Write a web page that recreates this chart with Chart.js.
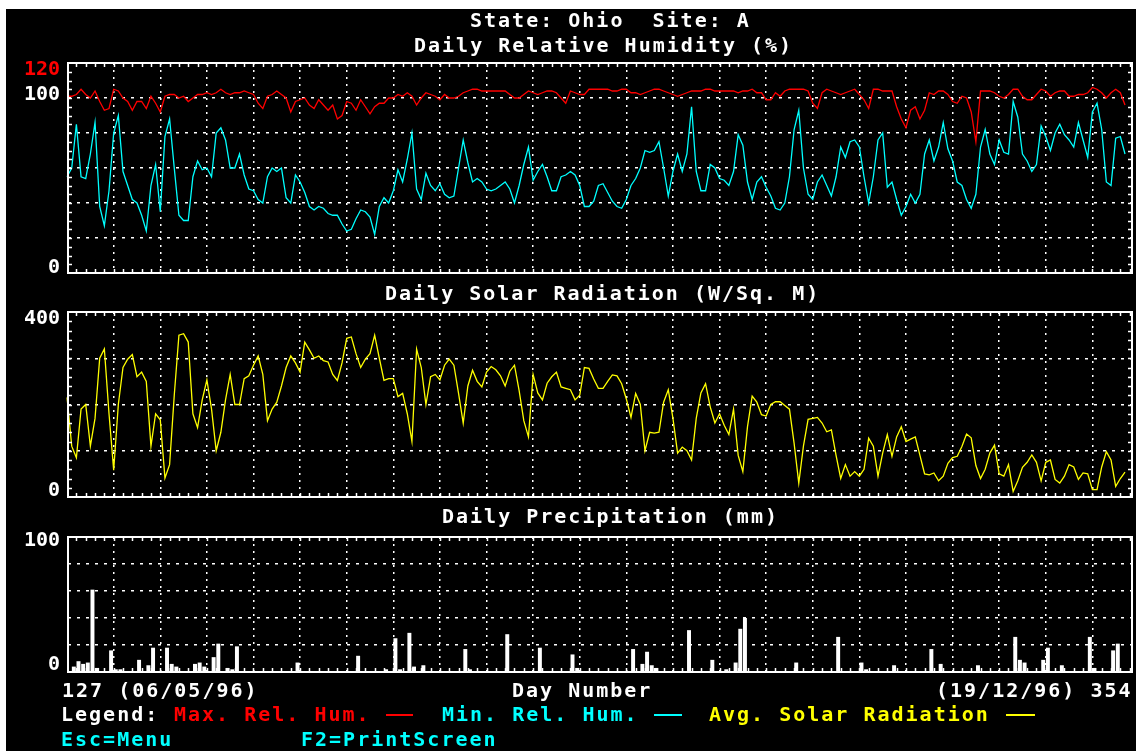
<!DOCTYPE html>
<html><head><meta charset="utf-8">
<script src="https://cdn.jsdelivr.net/npm/chart.js@4.4.1/dist/chart.umd.min.js"></script>
<style>
html,body{margin:0;padding:0;background:#fff;width:1136px;height:751px;overflow:hidden;position:relative}
#screen{position:absolute;left:6px;top:9px;width:1130px;height:742px;background:#000}
canvas{position:absolute;left:0;top:0}
.t{position:absolute;font-family:"DejaVu Sans Mono",monospace;font-weight:bold;font-size:20px;line-height:20px;letter-spacing:2px;white-space:pre;color:#fff}
.ln{position:absolute;height:2px;top:714px}
</style></head><body>
<div id="screen"></div>
<canvas id="c1" width="1136" height="751"></canvas>
<canvas id="c2" width="1136" height="751"></canvas>
<canvas id="c3" width="1136" height="751"></canvas>
<div class="t" style="left:470px;top:10px">State: Ohio  Site: A</div>
<div class="t" style="left:414px;top:35px">Daily Relative Humidity (%)</div>
<div class="t" style="left:385px;top:283px">Daily Solar Radiation (W/Sq. M)</div>
<div class="t" style="left:442px;top:506px">Daily Precipitation (mm)</div>
<div class="t" style="left:62px;top:680px">127 (06/05/96)</div>
<div class="t" style="left:512px;top:680px">Day Number</div>
<div class="t" style="left:936px;top:680px">(19/12/96) 354</div>
<div class="t" style="left:61px;top:704px">Legend:</div>
<div class="t" style="left:174px;top:704px;color:#ff0000">Max. Rel. Hum.</div>
<div class="ln" style="left:386px;width:27px;background:#ff0000"></div>
<div class="t" style="left:442px;top:704px;color:#00ffff">Min. Rel. Hum.</div>
<div class="ln" style="left:654px;width:28px;background:#00ffff"></div>
<div class="t" style="left:709px;top:704px;color:#ffff00">Avg. Solar Radiation</div>
<div class="ln" style="left:1006px;width:29px;background:#ffff00"></div>
<div class="t" style="left:61px;top:729px;color:#00ffff">Esc=Menu</div>
<div class="t" style="left:301px;top:729px;color:#00ffff">F2=PrintScreen</div>
<script>
// ---- data (day 127 .. 354) ----
const firstDay = 127;
const maxRH = [
101,101,102,105,102,100,104,98,93,94,
105,104,100,98,93,98,98,94,101,97,
92,101,102,102,100,101,98,100,102,102,
103,102,103,105,103,102,103,103,104,103,
102,97,94,101,102,104,102,100,92,98,
99,100,96,94,99,96,93,96,88,90,
98,97,93,99,95,91,95,97,97,100,
100,102,101,103,101,96,100,103,102,101,
99,102,100,100,101,103,104,105,105,104,
104,104,104,104,104,102,100,100,102,104,
103,102,103,104,104,103,100,97,104,103,
102,102,105,105,105,105,105,104,104,105,
105,103,103,102,103,104,105,105,104,103,
102,101,102,103,104,104,104,105,105,104,
104,104,104,104,103,104,104,105,103,103,
99,99,103,101,104,105,105,105,105,104,
97,94,103,105,104,103,102,103,104,105,
102,99,94,105,105,104,104,104,95,88,
83,93,95,88,93,103,102,104,104,102,
98,97,101,100,92,75,104,104,104,103,
101,100,102,105,105,101,99,99,102,105,
104,101,103,104,104,101,101,102,102,103,
106,105,103,100,103,105,103,96];
const minRH = [
55,60,85,55,54,68,86,38,27,47,
80,90,58,50,42,40,33,24,50,62,
35,78,88,60,33,30,30,55,64,59,
60,55,80,83,76,60,60,68,56,48,
47,42,40,55,60,58,60,43,40,56,
52,46,38,36,38,37,34,33,33,28,
24,25,31,36,35,32,22,38,43,40,
47,59,52,65,80,48,42,57,50,47,
51,45,43,44,60,76,63,52,54,52,
48,47,48,50,52,48,40,50,62,72,
53,58,62,55,47,47,55,56,58,56,
50,38,38,41,50,51,46,41,38,37,
42,50,54,60,70,69,70,75,60,44,
58,68,58,68,95,58,47,47,62,60,
54,53,50,58,79,73,52,42,52,55,
49,44,37,36,40,55,82,93,60,45,
42,52,56,50,44,55,72,66,75,76,
72,55,40,55,76,80,49,52,42,33,
38,45,40,45,68,76,64,72,86,71,
64,52,50,42,37,45,72,82,68,62,
76,69,68,98,89,68,64,58,62,84,
78,70,80,85,79,76,72,86,76,66,
92,97,82,52,50,77,78,68];
const solar = [
215,110,85,190,200,110,170,300,320,180,
58,200,280,298,308,260,270,250,110,180,
167,41,70,220,350,353,335,180,150,210,
253,190,100,140,210,265,200,200,256,262,
285,305,265,165,190,205,240,280,305,290,
270,335,318,300,305,295,292,265,252,290,
343,346,310,280,298,310,350,300,252,256,
256,217,224,180,120,320,280,200,260,265,
253,285,298,285,224,160,240,274,250,238,
270,282,275,262,240,272,285,230,165,130,
265,225,210,246,260,270,238,235,232,210,
220,280,278,255,235,235,250,264,262,245,
212,172,224,200,100,140,138,140,205,232,
170,95,108,100,80,170,225,245,195,160,
180,155,135,190,90,55,152,218,205,178,
175,200,206,206,198,190,116,30,110,168,
170,172,160,141,145,90,40,70,45,55,
45,60,127,110,45,95,135,88,130,152,
120,125,130,90,50,48,52,35,45,73,
85,88,109,136,128,68,40,60,95,112,
50,45,70,12,35,64,75,91,75,35,
75,80,38,30,45,70,65,38,52,50,
16,16,65,98,80,23,40,54];
const precip = [
0,4,8,6,7,61,3,0,0,16,
2,2,0,0,0,9,0,5,18,0,
0,18,6,4,0,0,0,6,7,4,
0,11,21,0,3,2,19,0,0,0,
0,0,0,0,0,0,0,0,0,7,
0,0,0,0,0,0,0,0,0,0,
0,0,12,0,0,0,0,0,2,0,
25,2,0,29,4,0,5,0,0,0,
0,0,0,0,0,17,2,0,0,0,
0,0,0,0,28,0,0,0,0,0,
0,18,0,0,0,0,0,0,13,3,
0,0,0,0,0,0,0,0,0,0,
0,17,0,6,15,5,3,0,0,0,
0,0,0,31,0,0,0,0,9,0,
0,2,0,7,32,40,0,0,0,0,
0,0,0,0,0,0,7,0,0,0,
0,0,0,0,0,26,0,0,0,0,
7,2,0,0,0,0,0,5,0,0,
0,0,0,0,0,17,0,6,0,0,
0,0,0,0,0,5,0,0,0,0,
0,0,0,26,9,7,0,0,0,9,
18,0,0,5,0,0,0,0,0,26,
3,0,0,0,16,21,0,0];
const days = maxRH.map((_, i) => firstDay + i);
const xGridDays = [137,147,157,167,177,187,197,207,217,227,237,247,257,267,277,287,297,307,317,327,337,347];
const rhTickVals = [120, 100, 0];
const rhTickText = ['120', '100', '0'];
const solarTickVals = [400, 0];
const solarTickText = ['400', '0'];
const precipTickVals = [100, 0];
const precipTickText = ['100', '0'];

// ---- styling ----
const FONT = '"DejaVu Sans Mono", monospace';
const WHITE = '#ffffff', RED = '#ff0000', CYAN = '#00ffff', YELLOW = '#ffff00';
const X_MIN = 127.2, X_MAX = 355.5;
const BAR_SHIFT = 0.45; // bars drawn just right of their day, as in the original

const framePlugin = {
  id: 'frame',
  afterDraw(chart, args, o) {
    const {ctx, chartArea: a, scales: {x, y}} = chart;
    ctx.save();
    ctx.strokeStyle = WHITE;
    ctx.lineWidth = 2;
    ctx.strokeRect(a.left, a.top, a.right - a.left, a.bottom - a.top);
    ctx.lineWidth = 1.5;
    ctx.beginPath();
    for (let d = firstDay; d <= X_MAX; d += 2) {
      const px = Math.round(x.getPixelForValue(d)) + 0.5;
      if (px <= a.left + 1 || px >= a.right - 1) continue;
      ctx.moveTo(px, a.top); ctx.lineTo(px, a.top + 4);
      ctx.moveTo(px, a.bottom); ctx.lineTo(px, a.bottom - 4);
    }
    if (o && o.yStep) {
      for (let v = y.min + o.yStep; v < y.max; v += o.yStep) {
        const py = Math.round(y.getPixelForValue(v)) + 0.5;
        ctx.moveTo(a.left, py); ctx.lineTo(a.left + 4, py);
        ctx.moveTo(a.right, py); ctx.lineTo(a.right - 4, py);
      }
    }
    ctx.stroke();
    ctx.restore();
  }
};

function labelLines(text, shift) {
  if (shift > 0) return ['', text];
  if (shift < 0) return [text, ''];
  return text;
}
const tv = c => (c && c.tick) ? c.tick.value : null;

function makeOptions(top, bottom, yMin, yMax, yStepGrid, tickVals, tickText, tickShift, tickColors, yMinor) {
  return {
    responsive: false,
    animation: false,
    events: [],
    layout: {padding: {top: top, bottom: 751 - bottom, left: 0, right: 4}},
    plugins: {legend: {display: false}, tooltip: {enabled: false}, frame: {yStep: yMinor}},
    scales: {
      x: {
        type: 'linear', min: X_MIN, max: X_MAX, offset: false,
        afterBuildTicks: s => { s.ticks = xGridDays.map(v => ({value: v})); },
        afterFit: s => { s.height = 0; },
        ticks: {display: false},
        grid: {color: WHITE, lineWidth: 1.5, drawTicks: false, offset: false},
        border: {display: false, dash: [2, 5]}
      },
      xb: {
        type: 'linear', axis: 'x', position: 'bottom', display: false, offset: false,
        min: X_MIN - BAR_SHIFT, max: X_MAX - BAR_SHIFT,
        afterFit: s => { s.height = 0; }
      },
      y: {
        min: yMin, max: yMax,
        afterFit: s => { s.width = 68; },
        ticks: {
          stepSize: yStepGrid,
          padding: 8,
          autoSkip: false,
          callback: v => { const i = tickVals.indexOf(v); return i < 0 ? '' : labelLines(tickText[i], tickShift[i]); },
          color: c => { const i = tickVals.indexOf(tv(c)); return i < 0 ? WHITE : tickColors[i]; },
          font: c => { const i = tickVals.indexOf(tv(c)); const sh = i < 0 ? 0 : Math.abs(tickShift[i]); return {family: FONT, size: 20, weight: 'bold', lineHeight: (2 * sh || 20) + 'px'}; }
        },
        grid: {color: WHITE, lineWidth: 1.5, drawTicks: false},
        border: {display: false, dash: [3, 6]}
      }
    }
  };
}

const pts = arr => arr.map((v, i) => ({x: days[i], y: v}));

new Chart(document.getElementById('c1'), {
  type: 'line',
  data: {datasets: [
    {data: pts(maxRH), borderColor: RED, borderWidth: 1.3, pointRadius: 0, tension: 0, clip: 3},
    {data: pts(minRH), borderColor: CYAN, borderWidth: 1.3, pointRadius: 0, tension: 0, clip: 3}
  ]},
  options: makeOptions(63, 273, 0, 120, 20, rhTickVals, rhTickText, [6.5, -3.5, -5], [RED, WHITE, WHITE], 5),
  plugins: [framePlugin]
});

new Chart(document.getElementById('c2'), {
  type: 'line',
  data: {datasets: [
    {data: pts(solar), borderColor: YELLOW, borderWidth: 1.3, pointRadius: 0, tension: 0, clip: 3}
  ]},
  options: makeOptions(312, 497, 0, 400, 100, solarTickVals, solarTickText, [6.5, -6], [WHITE, WHITE], 20),
  plugins: [framePlugin]
});

new Chart(document.getElementById('c3'), {
  type: 'bar',
  data: {datasets: [
    {data: pts(precip), xAxisID: 'xb', backgroundColor: WHITE, borderWidth: 0, barPercentage: 0.85, categoryPercentage: 1, clip: 3}
  ]},
  options: makeOptions(537, 672, 0, 100, 20, precipTickVals, precipTickText, [4, -7], [WHITE, WHITE], 0),
  plugins: [framePlugin]
});
</script>
</body></html>
